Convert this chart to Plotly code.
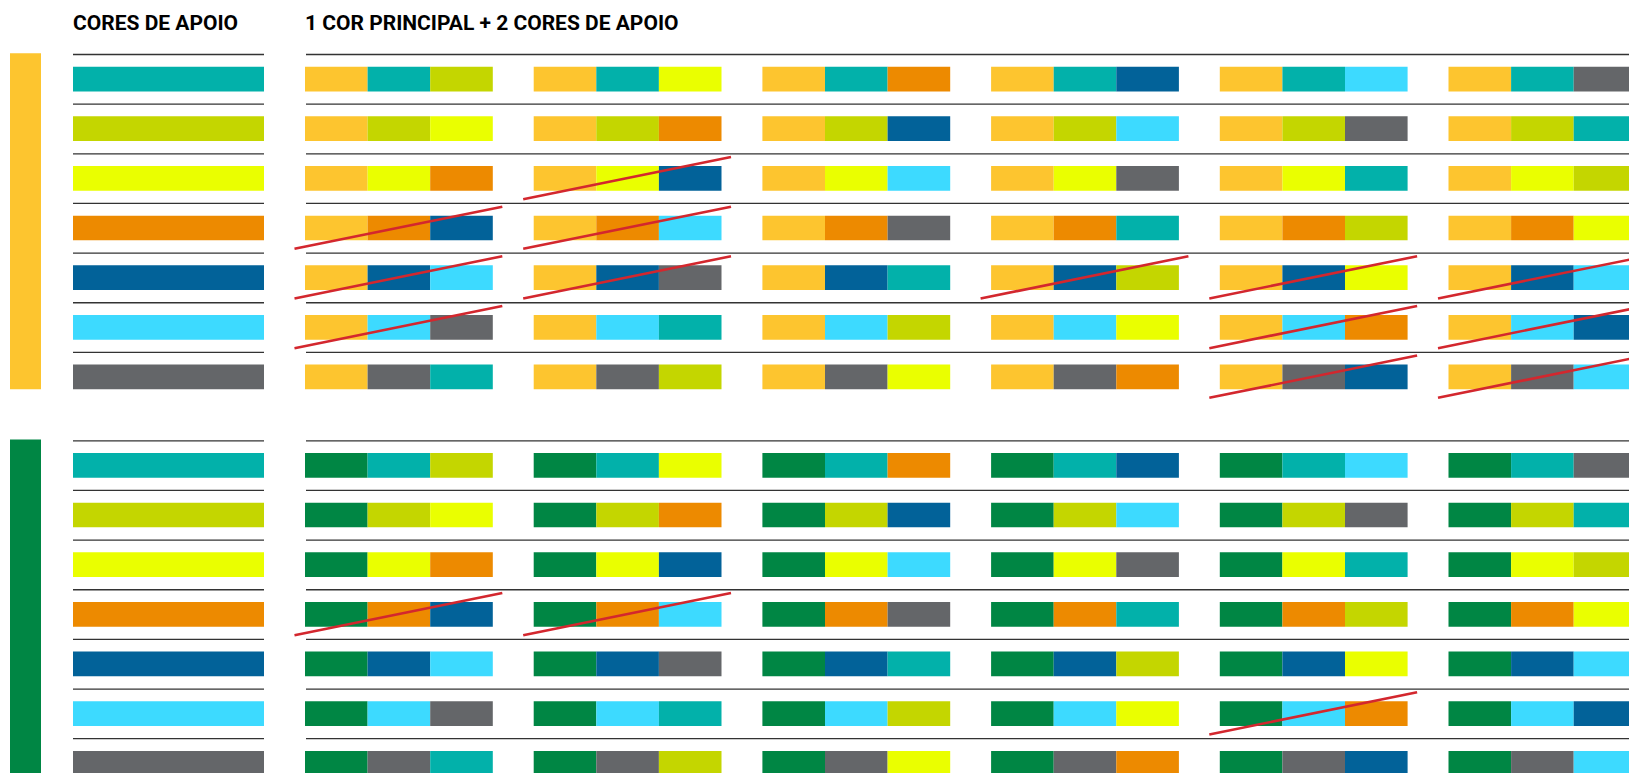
import plotly.graph_objects as go

# ---------------- data ----------------
PALETTE = {
    "amarelo": "#FDC52F",
    "verde": "#008644",
    "turquesa": "#02B1AA",
    "lima": "#C4D600",
    "amarelo_limao": "#EAFF00",
    "laranja": "#ED8A00",
    "azul": "#026299",
    "ciano": "#3DDAFF",
    "cinza": "#646669",
}
STRIKE_COLOR = "#D3272E"
RULE_COLOR = "#333333"

principal_colors = ["amarelo", "verde"]
support_colors = ["turquesa", "lima", "amarelo_limao", "laranja", "azul", "ciano", "cinza"]

# third colour of each combination: row = support colour, column = combination
third_colors = [
    ["lima", "amarelo_limao", "laranja", "azul", "ciano", "cinza"],
    ["amarelo_limao", "laranja", "azul", "ciano", "cinza", "turquesa"],
    ["laranja", "azul", "ciano", "cinza", "turquesa", "lima"],
    ["azul", "ciano", "cinza", "turquesa", "lima", "amarelo_limao"],
    ["ciano", "cinza", "turquesa", "lima", "amarelo_limao", "ciano"],
    ["cinza", "turquesa", "lima", "amarelo_limao", "laranja", "azul"],
    ["turquesa", "lima", "amarelo_limao", "laranja", "azul", "ciano"],
]

# crossed-out (row, column) combinations per principal colour
crossed_amarelo = [(2, 1), (3, 0), (3, 1), (4, 0), (4, 1), (4, 3), (4, 4), (4, 5),
                   (5, 0), (5, 4), (5, 5), (6, 4), (6, 5)]
crossed_verde = [(3, 0), (3, 1), (5, 4)]
crossed = [crossed_amarelo, crossed_verde]

titles = ["CORES DE APOIO", "1 COR PRINCIPAL + 2 CORES DE APOIO"]

# ---------------- layout constants ----------------
W, H = 1629, 773
ROW0 = 66.7          # top of first bar
PITCH = 49.65        # row pitch
SECTION = 386.3      # offset between sections
BAR_H = 24.7
LEFT_X0, LEFT_X1 = 73, 264
COMBO_X0 = 305
COMBO_STEP = 228.7
SEG_W = 62.6
VBAR_X0, VBAR_X1 = 10, 41
RULE_RIGHT_X0 = 306

bx, by, bbase, bw, bcol = [], [], [], [], []


def add_bar(x0, x1, ytop, h, color):
    bbase.append(x0)
    bx.append(x1 - x0)
    by.append(ytop + h / 2)
    bw.append(h)
    bcol.append(color)


rule_x, rule_y = [], []
strike_x, strike_y = [], []

for s, pc in enumerate(principal_colors):
    top0 = ROW0 + s * SECTION
    # principal vertical bar
    last_bottom = top0 + (len(support_colors) - 1) * PITCH + BAR_H
    add_bar(VBAR_X0, VBAR_X1, top0 - 13.5, last_bottom - (top0 - 13.5), PALETTE[pc])
    for r, sc in enumerate(support_colors):
        top = top0 + r * PITCH
        add_bar(LEFT_X0, LEFT_X1, top, BAR_H, PALETTE[sc])
        ly = top - 12.2
        rule_x += [LEFT_X0, LEFT_X1, None, RULE_RIGHT_X0, W + 5, None]
        rule_y += [ly, ly, None, ly, ly, None]
        for c, tc in enumerate(third_colors[r]):
            x0 = COMBO_X0 + c * COMBO_STEP
            for k, col in enumerate([pc, sc, tc]):
                add_bar(x0 + k * SEG_W, x0 + (k + 1) * SEG_W, top, BAR_H, PALETTE[col])
            if (r, c) in crossed[s]:
                x1 = x0 + 3 * SEG_W
                strike_x += [x0 - 10.5, x1 + 9.5, None]
                strike_y += [top + BAR_H + 8.5, top - 9, None]

fig = go.Figure()
fig.add_trace(go.Bar(
    orientation="h", x=bx, y=by, base=bbase, width=bw,
    marker=dict(color=bcol, line=dict(width=0)),
    hoverinfo="skip", showlegend=False,
))
fig.add_trace(go.Scatter(
    x=rule_x, y=rule_y, mode="lines",
    line=dict(color=RULE_COLOR, width=1.3),
    hoverinfo="skip", showlegend=False,
))
fig.add_trace(go.Scatter(
    x=strike_x, y=strike_y, mode="lines",
    line=dict(color=STRIKE_COLOR, width=2.6),
    hoverinfo="skip", showlegend=False,
))

for t, x in zip(titles, [LEFT_X0 - 2, COMBO_X0 - 2]):
    fig.add_annotation(
        x=x, y=22.5, xref="x", yref="y", xanchor="left", yanchor="middle",
        text="<b>" + t + "</b>", showarrow=False,
        font=dict(family="Roboto, sans-serif", size=21, color="#000000"),
    )

fig.update_layout(
    width=W, height=H,
    margin=dict(l=0, r=0, t=0, b=0),
    paper_bgcolor="white", plot_bgcolor="white",
    barmode="overlay",
    xaxis=dict(range=[0, W], visible=False, fixedrange=True),
    yaxis=dict(range=[H, 0], visible=False, fixedrange=True),
    showlegend=False,
)

fig.write_html("out.html", config={"displayModeBar": False},
               post_script="document.body.style.margin='0';document.body.style.overflow='hidden';")
